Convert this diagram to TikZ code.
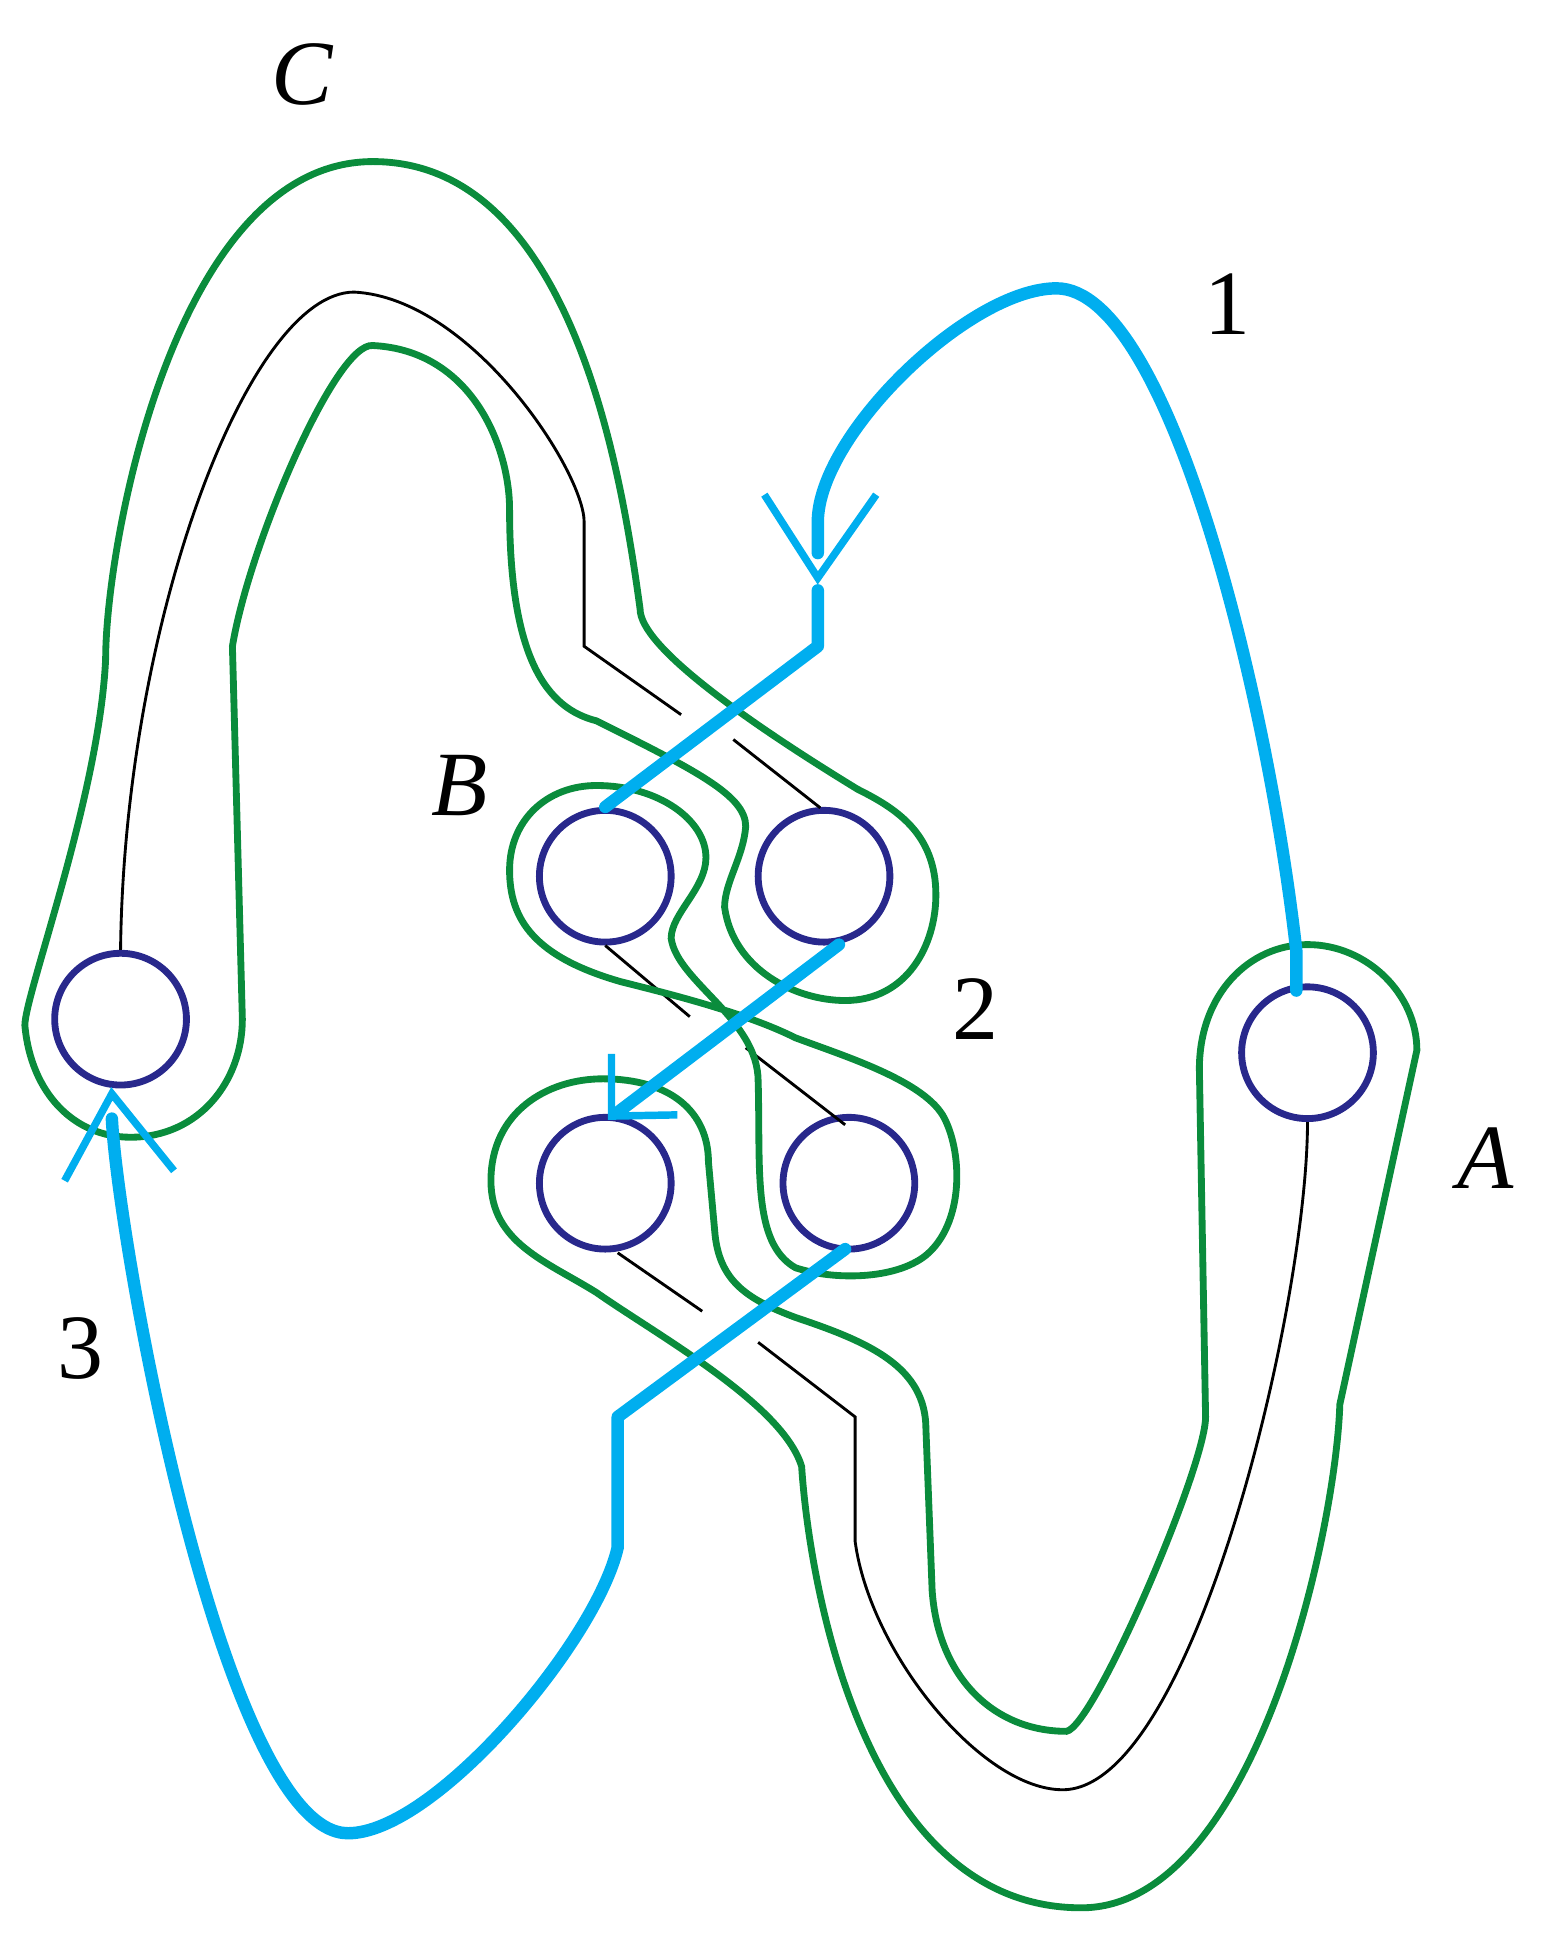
\documentclass[tikz,border=0pt]{standalone}
\usepackage{fontspec}
\setmainfont{Liberation Serif}
\begin{document}
\begin{tikzpicture}[x=1pt,y=-1pt,
  gr/.style={draw={rgb,255:red,10;green,140;blue,60},line width=5.5pt},
  bl/.style={draw={rgb,255:red,0;green,174;blue,239},line width=10pt,line cap=round,line join=round},
  ah/.style={draw={rgb,255:red,0;green,174;blue,239},line width=6pt},
  bk/.style={draw=black,line width=2.3pt},
  ring/.style={circle,draw={rgb,255:red,40;green,40;blue,140},line width=5.5pt,minimum size=106pt,inner sep=0pt},
  lab/.style={font=\fontsize{74}{74}\selectfont},
  ilab/.style={font=\fontsize{74}{74}\selectfont\itshape}]
\useasboundingbox (0,0) rectangle (1240,1577);
\node[ring] (L) at (97,820) {};
\node[ring] (B1) at (487,705) {};
\node[ring] (B2) at (663,705) {};
\node[ring] (B3) at (487,952) {};
\node[ring] (B4) at (683,952) {};
\node[ring] (A) at (1052,847) {};
% black thin
\draw[bk] (L.north) .. controls (100,500) and (200,235) .. (285,235) .. controls (380,240) and (470,380) .. (470,420) -- (470,520) -- (548,575);
\draw[bk] (590,595) -- (660,650);
\draw[bk] (B1.south) -- (555,818);
\draw[bk] (600,843) -- (680,905);
\draw[bk] (497,1008) -- (565,1055);
\draw[bk] (610,1080) -- (688,1140) -- (688,1240) .. controls (700,1330) and (790,1440) .. (855,1440) .. controls (960,1440) and (1052,1050) .. (A.south);
% green loop C
\draw[gr] (515,490) .. controls (500,380) and (460,130) .. (300,130) .. controls (140,130) and (85,440) .. (85,530)
  .. controls (80,640) and (20,800) .. (20,825) .. controls (25,880) and (60,915) .. (105,915) .. controls (160,915) and (195,870) .. (195,820)
  -- (187,520) .. controls (200,440) and (270,275) .. (300,278) .. controls (380,282) and (410,360) .. (410,410)
  .. controls (410,530) and (440,570) .. (480,580) .. controls (560,620) and (600,640) .. (600,665)
  .. controls (598,690) and (583,710) .. (583,730) .. controls (590,780) and (640,805) .. (680,805)
  .. controls (730,805) and (753,760) .. (753,720) .. controls (753,670) and (720,650) .. (690,635)
  .. controls (600,580) and (515,520) .. (515,490) -- cycle;
% green loop B1-B4
\draw[gr] (410,700) .. controls (410,660) and (440,632) .. (480,632) .. controls (530,632) and (568,660) .. (568,690)
  .. controls (568,715) and (540,735) .. (540,755) .. controls (545,790) and (610,820) .. (610,870)
  .. controls (612,940) and (605,1000) .. (640,1020) .. controls (670,1030) and (720,1030) .. (745,1010)
  .. controls (775,985) and (775,930) .. (760,900) .. controls (745,870) and (680,850) .. (640,835)
  .. controls (600,815) and (540,800) .. (500,790) .. controls (430,770) and (410,740) .. (410,700) -- cycle;
% green loop B3-A
\draw[gr] (395,950) .. controls (395,895) and (440,868) .. (485,868) .. controls (540,868) and (570,895) .. (570,935)
  -- (575,990) .. controls (578,1030) and (600,1045) .. (640,1060) .. controls (700,1080) and (745,1100) .. (745,1150)
  -- (750,1280) .. controls (755,1350) and (800,1393) .. (858,1393) .. controls (880,1390) and (970,1180) .. (970,1140)
  -- (965,860) .. controls (965,800) and (1005,760) .. (1052,760) .. controls (1100,760) and (1140,800) .. (1140,845)
  -- (1078,1130) .. controls (1075,1230) and (1010,1535) .. (870,1535) .. controls (690,1535) and (650,1260) .. (645,1180)
  .. controls (630,1130) and (530,1075) .. (480,1040) .. controls (440,1015) and (395,1000) .. (395,950) -- cycle;
% blue paths
\coordinate (aS) at (1043,797);
\draw[bl] (aS) -- (1043,765) .. controls (1020,560) and (940,232) .. (850,232) .. controls (780,232) and (658,350) .. (658,420) -- (658,445);
\draw[bl] (658,475) -- (658,520) -- (B1.north);
\draw[ah] (615,398) -- (658,465) -- (705,398);
\draw[bl] (675,760) -- (497,895);
\draw[ah] (492,848) -- (492,898) -- (545,897);
\draw[bl] (680,1005) -- (497,1140) -- (497,1245) .. controls (480,1320) and (350,1475) .. (280,1475) .. controls (180,1475) and (95,1000) .. (90,900);
\draw[ah] (52,950) -- (90,880) -- (140,942);
% labels
\node[ilab] (lC) at (243,60) {C};
\node[lab] (l1) at (988,245) {1};
\node[ilab] (lB) at (370,632) {B};
\node[lab] (l2) at (785,812) {2};
\node[ilab] (lA) at (1195,932) {A};
\node[lab] (l3) at (65,1085) {3};
\end{tikzpicture}
\end{document}
